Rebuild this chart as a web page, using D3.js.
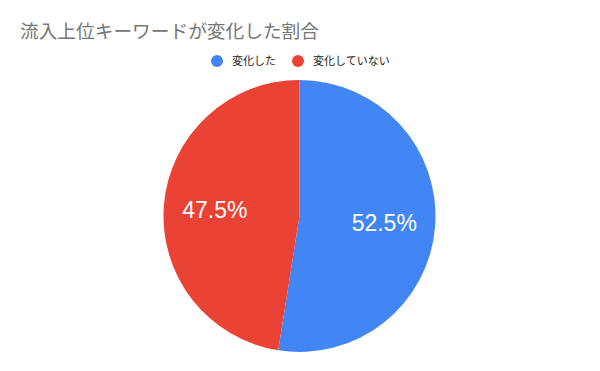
<!DOCTYPE html>
<html>
<head>
<meta charset="utf-8">
<script src="https://cdn.jsdelivr.net/npm/d3@7"></script>
<style>
  body { margin: 0; background: #fff; }
  svg { display: block; font-family: Roboto, "Noto Sans CJK JP", sans-serif; }
</style>
</head>
<body>
<svg id="chart"></svg>
<script>
const title = "流入上位キーワードが変化した割合";
const categories = ["変化した", "変化していない"];
const values = [52.5, 47.5];
const colors = ["#4285F4", "#EA4335"];

const width = 600;
const height = 371;
const radius = 136;
const cx = 299.5;
const cy = 216;

const svg = d3.select("#chart")
  .attr("width", width)
  .attr("height", height);

svg.append("text")
  .attr("x", 20)
  .attr("y", 38)
  .attr("fill", "#757575")
  .style("font-size", "18.7px")
  .style("font-family", "'Noto Sans CJK JP', sans-serif")
  .text(title);

// Legend
const legendX = [217, 298];
const legend = svg.append("g")
  .selectAll("g")
  .data(categories)
  .join("g")
  .attr("transform", (d, i) => `translate(${legendX[i]},61)`);

legend.append("circle")
  .attr("r", 6)
  .attr("fill", (d, i) => colors[i]);

legend.append("text")
  .attr("x", 15)
  .attr("y", 4)
  .attr("fill", "#222")
  .style("font-size", "11px")
  .style("font-family", "'Noto Sans CJK JP', sans-serif")
  .text((d) => d);

// Pie
const pie = d3.pie().sort(null).value((d) => d);
const arc = d3.arc().innerRadius(0).outerRadius(radius);
const labelArc = d3.arc().innerRadius(85).outerRadius(85);

const g = svg.append("g")
  .attr("transform", `translate(${cx},${cy})`);

const pied = pie(values);

g.selectAll("path")
  .data(pied)
  .join("path")
  .attr("d", arc)
  .attr("fill", (d, i) => colors[i]);

g.selectAll("text.label")
  .data(pied)
  .join("text")
  .attr("class", "label")
  .attr("transform", (d) => `translate(${labelArc.centroid(d)})`)
  .attr("text-anchor", "middle")
  .attr("dy", "0.36em")
  .attr("fill", "#fff")
  .style("font-size", "23px")
  .style("font-family", "Arial, 'Liberation Sans', sans-serif")
  .text((d) => `${d.data.toFixed(1)}%`);
</script>
</body>
</html>
